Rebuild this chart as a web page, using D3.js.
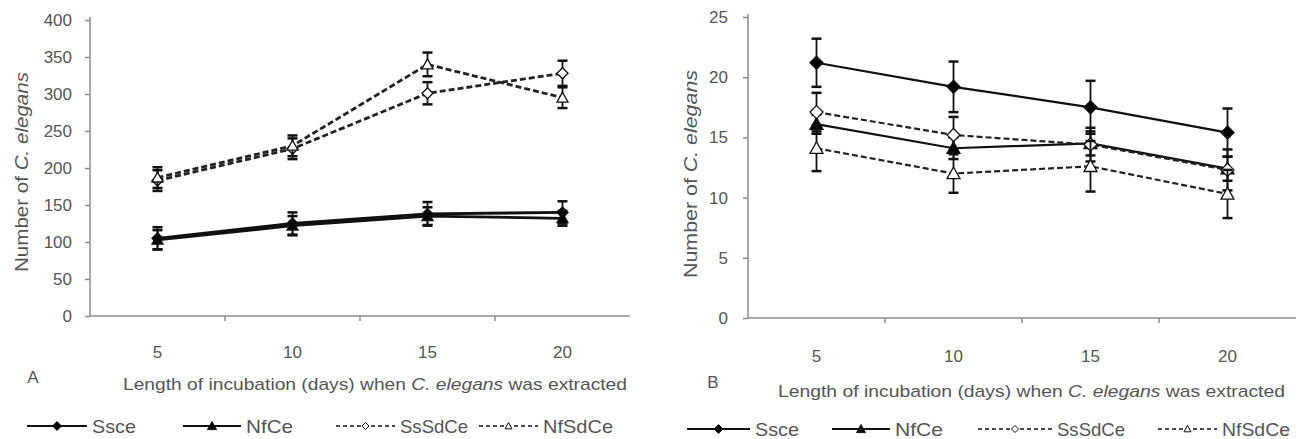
<!DOCTYPE html>
<meta charset="utf-8">
<style>
body { margin: 0; background: #fff; }
text { font-family: "Liberation Sans", Arial, sans-serif; fill: #555; }
.axis path, .axis line { stroke: #8c8c8c; stroke-width: 1.5; }
.axis text { font-size: 17px; fill: #555; }
.series { fill: none; stroke: #111; stroke-width: 2.5; }
.dashed { stroke-dasharray: 6,3; stroke: #222; }
.err { stroke: #111; stroke-width: 1.8; fill: none; }
</style>
<svg width="1300" height="439"></svg>
<script src="https://d3js.org/d3.v7.min.js"></script>
<script>

var days = ["5", "10", "15", "20"];
var seriesNames = ["Ssce", "NfCe", "SsSdCe", "NfSdCe"];

// panel A
var aTicks = [0, 50, 100, 150, 200, 250, 300, 350, 400];
var aSsce = [105, 125, 138, 140],   aSsceErr = [15, 15, 16, 15];
var aNfCe = [103, 122, 135, 132],   aNfCeErr = [13, 13, 12, 10];
var aSsSdCe = [183, 226, 301, 328], aSsSdCeErr = [14, 14, 15, 17];
var aNfSdCe = [187, 230, 340, 295], aNfSdCeErr = [14, 14, 16, 14];

// panel B
var bTicks = [0, 5, 10, 15, 20, 25];
var bSsce = [21.2, 19.2, 17.5, 15.4],   bSsceErr = [2.0, 2.1, 2.2, 2.0];
var bNfCe = [16.1, 14.1, 14.5, 12.4],   bNfCeErr = [0.8, 0.9, 1.0, 1.0];
var bSsSdCe = [17.1, 15.2, 14.4, 12.3], bSsSdCeErr = [1.6, 1.5, 1.4, 1.7];
var bNfSdCe = [14.1, 12.0, 12.6, 10.3], bNfSdCeErr = [1.9, 1.6, 2.1, 2.0];

var svg = d3.select("svg");

function diamond(r) { return "M0," + (-r) + "L" + r + ",0L0," + r + "L" + (-r) + ",0Z"; }
function triangle(r) { return "M0," + (-r) + "L" + r + "," + (r * 0.8) + "L" + (-r) + "," + (r * 0.8) + "Z"; }

var styles = [
  {dashed: false, shape: diamond, fill: "#000"},
  {dashed: false, shape: triangle, fill: "#000"},
  {dashed: true, shape: diamond, fill: "#fff"},
  {dashed: true, shape: triangle, fill: "#fff"}
];

function drawPanel(p) {
  var g = svg.append("g");

  var x = d3.scaleBand().domain(days).range([p.left, p.right]);
  var y = d3.scaleLinear().domain([0, p.ticks[p.ticks.length - 1]]).range([p.bottom, p.top]);

  var yAxis = g.append("g")
      .attr("class", "axis")
      .attr("transform", "translate(" + p.left + ",0)")
      .call(d3.axisLeft(y).tickValues(p.ticks).tickSize(5).tickPadding(p.pad).tickSizeOuter(0));
  yAxis.select(".domain").attr("d", "M0," + y(0) + "V" + (p.top - 3));

  var xAxis = g.append("g").attr("class", "axis");
  xAxis.append("line")
      .attr("x1", p.left).attr("x2", p.right)
      .attr("y1", y(0)).attr("y2", y(0));
  xAxis.selectAll(".xt")
    .data(days.slice(1))
    .enter().append("line")
      .attr("x1", function(d) { return x(d); }).attr("x2", function(d) { return x(d); })
      .attr("y1", y(0)).attr("y2", y(0) + 5);
  xAxis.selectAll(".xl")
    .data(days)
    .enter().append("text")
      .attr("x", function(d) { return x(d) + x.bandwidth() / 2; })
      .attr("y", p.tickY)
      .attr("text-anchor", "middle")
      .style("font-size", "17px")
      .text(function(d) { return d; });

  // axis titles
  var yt = g.append("text")
      .attr("transform", "translate(" + p.yTitleX + "," + p.yTitleY + ") rotate(-90)")
      .attr("text-anchor", "middle")
      .attr("textLength", p.yTitleW)
      .attr("lengthAdjust", "spacingAndGlyphs")
      .style("font-size", "18px");
  yt.append("tspan").text("Number of ");
  yt.append("tspan").style("font-style", "italic").text("C. elegans");

  var xt = g.append("text")
      .attr("x", p.xTitleX)
      .attr("y", p.xTitleY)
      .attr("textLength", p.xTitleW)
      .attr("lengthAdjust", "spacingAndGlyphs")
      .style("font-size", "17px");
  xt.append("tspan").text("Length of  incubation (days) when ");
  xt.append("tspan").style("font-style", "italic").text("C. elegans");
  xt.append("tspan").text(" was extracted");

  g.append("text")
      .attr("x", p.letterX).attr("y", p.letterY)
      .attr("text-anchor", "middle")
      .style("font-size", "17px")
      .text(p.letter);

  var line = d3.line()
      .x(function(d, i) { return x(days[i]) + x.bandwidth() / 2; })
      .y(function(d) { return y(d); });

  p.series.forEach(function(s, k) {
    var st = styles[k];
    var cx = function(d, i) { return x(days[i]) + x.bandwidth() / 2; };

    g.append("path")
        .datum(s.values)
        .attr("class", "series" + (st.dashed ? " dashed" : ""))
        .style("stroke-width", p.lineW)
        .attr("d", line);

    var eb = g.selectAll(null)
      .data(s.values)
      .enter().append("g")
        .attr("class", "err");
    eb.append("line")
        .attr("x1", cx).attr("x2", cx)
        .attr("y1", function(d, i) { return y(d - s.err[i]); })
        .attr("y2", function(d, i) { return y(d + s.err[i]); });
    eb.append("line")
        .attr("x1", function(d, i) { return cx(d, i) - 5; })
        .attr("x2", function(d, i) { return cx(d, i) + 5; })
        .attr("y1", function(d, i) { return y(d + s.err[i]); })
        .attr("y2", function(d, i) { return y(d + s.err[i]); })
        .style("stroke-width", 2.5);
    eb.append("line")
        .attr("x1", function(d, i) { return cx(d, i) - 5; })
        .attr("x2", function(d, i) { return cx(d, i) + 5; })
        .attr("y1", function(d, i) { return y(d - s.err[i]); })
        .attr("y2", function(d, i) { return y(d - s.err[i]); })
        .style("stroke-width", 2.5);

    g.selectAll(null)
      .data(s.values)
      .enter().append("path")
        .attr("transform", function(d, i) { return "translate(" + cx(d, i) + "," + y(d) + ")"; })
        .attr("d", st.shape(p.markR))
        .attr("fill", st.fill)
        .attr("stroke", "#111")
        .attr("stroke-width", 1.3);
  });

  // legend
  var lg = g.append("g");
  seriesNames.forEach(function(name, k) {
    var st = styles[k], L = p.legend[k];
    lg.append("line")
        .attr("x1", L[0]).attr("x2", L[1])
        .attr("y1", p.legendY).attr("y2", p.legendY)
        .attr("stroke", "#111")
        .attr("stroke-width", st.dashed ? 1.4 : 2)
        .attr("stroke-dasharray", st.dashed ? "4,3" : null);
    lg.append("path")
        .attr("transform", "translate(" + ((L[0] + L[1]) / 2) + "," + p.legendY + ")")
        .attr("d", st.shape(st.dashed ? 3.5 : 4.5))
        .attr("fill", st.fill)
        .attr("stroke", "#111")
        .attr("stroke-width", 1);
    lg.append("text")
        .attr("x", L[1] + 5)
        .attr("y", p.legendY + 7)
        .attr("textLength", L[2])
        .attr("lengthAdjust", "spacingAndGlyphs")
        .style("font-size", "19px")
        .text(name);
  });
}

drawPanel({
  left: 90, right: 630, top: 20, bottom: 316, ticks: aTicks, pad: 13,
  lineW: 2.8, tickY: 358, markR: 5.5,
  yTitleX: 28, yTitleY: 172, yTitleW: 200,
  xTitleX: 123, xTitleY: 390, xTitleW: 504,
  letter: "A", letterX: 33, letterY: 383,
  legendY: 426,
  legend: [[27, 87, 44], [183, 241, 47], [336, 395, 68], [479, 538, 70]],
  series: [
    {values: aSsce, err: aSsceErr},
    {values: aNfCe, err: aNfCeErr},
    {values: aSsSdCe, err: aSsSdCeErr},
    {values: aNfSdCe, err: aNfSdCeErr}
  ]
});

drawPanel({
  left: 748, right: 1296, top: 17, bottom: 318, ticks: bTicks, pad: 15,
  lineW: 2.2, tickY: 362, markR: 6.5,
  yTitleX: 697, yTitleY: 174, yTitleW: 208,
  xTitleX: 778, xTitleY: 397, xTitleW: 507,
  letter: "B", letterX: 713, letterY: 388,
  legendY: 429,
  legend: [[687, 750, 44], [832, 890, 48], [978, 1052, 68], [1158, 1217, 68]],
  series: [
    {values: bSsce, err: bSsceErr},
    {values: bNfCe, err: bNfCeErr},
    {values: bSsSdCe, err: bSsSdCeErr},
    {values: bNfSdCe, err: bNfSdCeErr}
  ]
});

</script>
